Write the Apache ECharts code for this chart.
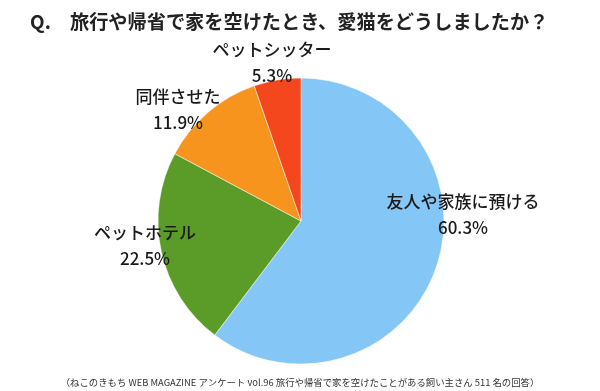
<!DOCTYPE html>
<html><head><meta charset="utf-8">
<script src="https://cdn.jsdelivr.net/npm/echarts@6/dist/echarts.min.js"></script>
<style>html,body{margin:0;padding:0;background:#fff}#c{width:600px;height:391px}</style>
</head><body><div id="c"></div>
<script>
var titleQ = 'Q.';
var titleText = '旅行や帰省で家を空けたとき、愛猫をどうしましたか？';
var footnote = '（ねこのきもち WEB MAGAZINE アンケート vol.96 旅行や帰省で家を空けたことがある飼い主さん 511 名の回答）';
var categories = ['友人や家族に預ける', 'ペットホテル', '同伴させた', 'ペットシッター'];
var values = [60.3, 22.5, 11.9, 5.3];
var colors = ['#84C7F6', '#5B9B27', '#F6941E', '#F4471D'];
var labelOffsets = [[162, -6], [-156, 25], [-123, -111], [-29, -158]];

var chart = echarts.init(document.getElementById('c'));
chart.setOption({
  animation: false,
  title: [{
    text: '{q|' + titleQ + '}{t|' + titleText + '}', left: 30, top: 12, padding: 0,
    textStyle: {
      rich: {
        q: {fontFamily: 'Noto Sans CJK JP', fontSize: 19, fontWeight: 'bold', color: '#222', width: 40},
        t: {fontFamily: 'Noto Sans CJK JP', fontSize: 19.2, fontWeight: 'bold', color: '#222'}
      }
    }
  }, {
    text: footnote, left: 'center', top: 373,
    textStyle: {fontFamily: 'Noto Sans CJK JP', fontSize: 9.4, fontWeight: 'normal', color: '#333'}
  }],
  series: [{
    type: 'pie',
    center: [301, 221],
    radius: 143,
    startAngle: 90,
    clockwise: true,
    silent: true,
    avoidLabelOverlap: false,
    minShowLabelAngle: 0,
    labelLayout: {hideOverlap: false},
    itemStyle: {borderColor: '#ffffff', borderWidth: 0.5},
    labelLine: {show: false},
    data: categories.map(function (c, i) {
      return {
        name: c, value: values[i],
        itemStyle: {color: colors[i]},
        label: {
          show: true, position: 'center', offset: labelOffsets[i],
          formatter: function (p) { return p.name + '\n' + p.value.toFixed(1) + '%'; },
          fontFamily: 'Noto Sans CJK JP', fontSize: 17, fontWeight: 500, lineHeight: 26,
          color: '#1a1a1a', align: 'center'
        }
      };
    })
  }]
});
</script></body></html>
